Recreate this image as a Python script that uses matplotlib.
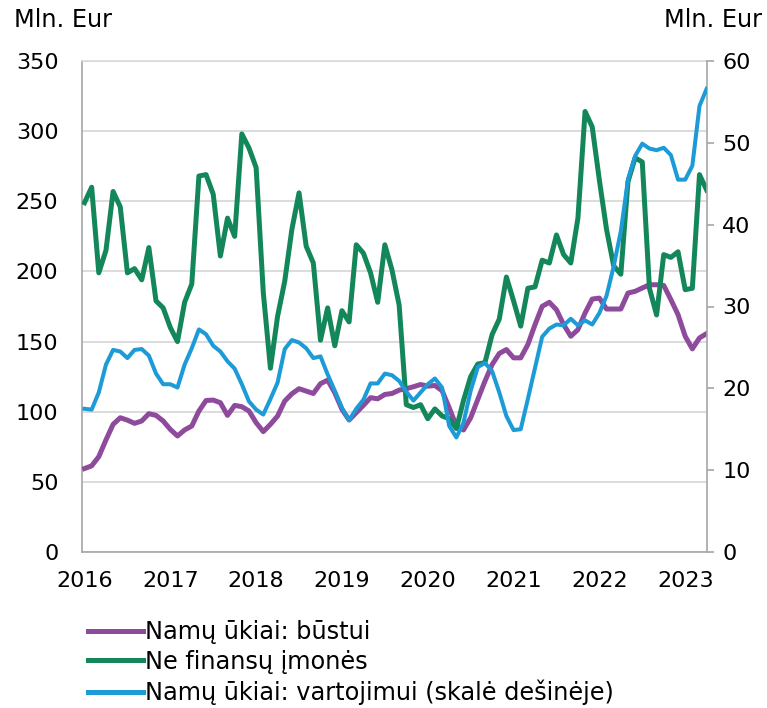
import matplotlib
matplotlib.use("Agg")
import matplotlib.pyplot as plt
import numpy as np

# Monthly data, Jan 2016 - Apr 2023
start_year = 2016
housing = [59.5, 61.4, 68, 79.9, 91, 95.7, 94, 91.7, 93.4, 98.6, 97.4, 93.4,
           87.4, 82.7, 87, 89.8, 100.5, 108, 108.3, 106.4, 97.4, 104.5, 103.6, 100.5,
           92.2, 85.8, 91, 96.9, 107.6, 112.8, 116.4, 114.7, 113, 120, 122.5, 113.5,
           101.7, 94.1, 99.3, 104.5, 110, 109.2, 112.3, 113, 115.4, 116.4, 117.8, 119.4,
           118.2, 118.7, 115, 102.8, 89.8, 87, 95.7, 108.8, 121.8, 133.6, 141.5, 144.3,
           138.4, 138.4, 147.9, 162.1, 175.1, 178, 172.7, 162.1, 153.8, 158.5, 170.4, 180.3,
           181, 173.2, 173.2, 173.2, 184.6, 185.8, 188.2, 190.5, 190.5, 190, 179.9, 169.2,
           153.8, 144.8, 152.6, 155.7]
companies = [249, 260, 199, 215, 257, 246, 199, 202, 194, 217, 179, 174,
             160, 150, 178, 191, 268, 269, 255, 211, 238, 225, 298, 288,
             274, 185, 131, 168, 193, 230, 256, 218, 206, 151, 174, 147,
             172, 164, 219, 213, 199, 178, 219, 201, 176, 105, 103, 105,
             95, 102, 97, 95, 88, 108, 125, 134, 135, 155, 166, 196,
             179, 161, 188, 189, 208, 206, 226, 212, 206, 238, 314, 303,
             265, 230, 204, 198, 264, 281, 278, 188, 169, 212, 210, 214,
             187, 188, 269, 258]
consumption = [17.5, 17.4, 19.5, 22.9, 24.7, 24.5, 23.7, 24.7, 24.8, 24.0, 21.8, 20.5,
               20.5, 20.1, 22.9, 24.9, 27.2, 26.6, 25.2, 24.5, 23.3, 22.4, 20.5, 18.4,
               17.4, 16.8, 18.7, 20.7, 24.8, 25.9, 25.6, 24.9, 23.7, 23.9, 21.7, 19.7,
               17.6, 16.1, 17.5, 18.6, 20.6, 20.6, 21.8, 21.6, 20.9, 19.6, 18.5, 19.5,
               20.5, 21.2, 20.1, 15.4, 14.0, 15.8, 19.7, 22.6, 23.1, 22.1, 19.5, 16.6,
               14.9, 15.0, 18.7, 22.5, 26.3, 27.3, 27.8, 27.7, 28.5, 27.7, 28.3, 27.8,
               29.2, 31.3, 34.9, 39.2, 45.5, 48.4, 49.9, 49.3, 49.1, 49.4, 48.5, 45.5,
               45.5, 47.2, 54.5, 56.6]
labels = ["Namų ūkiai: būstui", "Ne finansų įmonės",
          "Namų ūkiai: vartojimui (skalė dešinėje)"]
year_ticks = list(range(2016, 2024))
left_ticks = [0, 50, 100, 150, 200, 250, 300, 350]
right_ticks = [0, 10, 20, 30, 40, 50, 60]
unit = "Mln. Eur"

c_purple = "#8e4a9b"
c_green = "#13875a"
c_blue = "#1d9bd7"
grid_c = "#d9d9d9"
spine_c = "#a6a6a6"

x = start_year + np.arange(len(housing)) / 12.0

plt.rcParams['font.family'] = ['DejaVu Sans']
fs = 16
fs_txt = 17.3

fig = plt.figure(figsize=(7.67, 7.08), dpi=100)
ax = fig.add_axes([82/767, 1-552/708, (707-82)/767, (552-61)/708])
ax2 = ax.twinx()

lw = 3.6
l1, = ax.plot(x, housing, color=c_purple, lw=lw, solid_joinstyle='round', zorder=3)
l2, = ax.plot(x, companies, color=c_green, lw=lw, solid_joinstyle='round', zorder=4)
l3, = ax2.plot(x, consumption, color=c_blue, lw=2.9, solid_joinstyle='round', zorder=3)

xmin = start_year - 0.35/12
xmax = x[-1] + 0.05/12
ax.set_xlim(xmin, xmax)
ax.set_ylim(0, 350)
ax2.set_ylim(0, 60)
ax.set_yticks(left_ticks)
ax2.set_yticks(right_ticks)
ax.set_xticks(year_ticks)
ax.set_xticklabels([str(y) for y in year_ticks])

ax.yaxis.grid(True, color=grid_c, lw=1.3)
ax.set_axisbelow(True)

ax.spines['top'].set_color(grid_c)
ax2.spines['top'].set_visible(False)
ax.spines['left'].set_color(spine_c)
ax.spines['bottom'].set_color(spine_c)
ax.spines['right'].set_visible(False)
ax2.spines['left'].set_visible(False)
ax2.spines['bottom'].set_visible(False)
ax2.spines['right'].set_color(spine_c)
for s in ax.spines.values():
    s.set_linewidth(1.2)
ax2.spines['right'].set_linewidth(1.2)

ax.tick_params(axis='y', length=0, pad=17, labelsize=fs)
ax.tick_params(axis='x', length=0, pad=14, labelsize=fs)
ax2.tick_params(axis='y', length=5, width=1.2, color=spine_c, pad=6, labelsize=fs)

fig.text(14/767, 1-20/708, unit, ha='left', va='center', fontsize=fs_txt)
fig.text(762/767, 1-20/708, unit, ha='right', va='center', fontsize=fs_txt)

leg = fig.legend([l1, l2, l3], labels, loc='upper left',
                 bbox_to_anchor=(88/767, 1-620/708), frameon=False,
                 fontsize=fs_txt, borderpad=0, borderaxespad=0,
                 handlelength=2.3, handletextpad=0.08, labelspacing=0.24)
for h in leg.legend_handles:
    h.set_linewidth(lw)

fig.savefig("out.png", dpi=100)
